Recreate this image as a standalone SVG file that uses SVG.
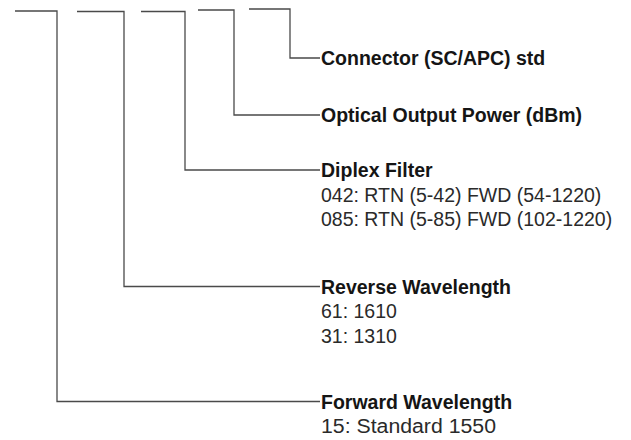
<svg xmlns="http://www.w3.org/2000/svg" width="631" height="440" viewBox="0 0 631 440">
<style>
.c{fill:none;stroke:#4a4a4a;stroke-width:1.3}
.t{font-family:"Liberation Sans",Arial,sans-serif;font-size:19.5px;fill:#2a2a2a}
.b{font-weight:bold;fill:#151515}
</style>
<rect width="631" height="440" fill="#fff"/>
<g id="connectors">
<polyline class="c" points="249,9 290,9 290,58 320,58"/>
<polyline class="c" points="198,10 234,10 234,115 320,115"/>
<polyline class="c" points="141,11.5 185,11.5 185,170 320,170"/>
<polyline class="c" points="77,11.5 124,11.5 124,286.5 320,286.5"/>
<polyline class="c" points="15,11 57,11 57,401.5 320,401.5"/>
</g>
<g id="connector-std">
<text class="t b" x="321" y="65">Connector (SC/APC) std</text>
</g>
<g id="optical-power">
<text class="t b" x="321" y="122">Optical Output Power (dBm)</text>
</g>
<g id="diplex-filter">
<text class="t b" x="321" y="177">Diplex Filter</text>
<text class="t" x="321" y="201.5">042: RTN (5-42) FWD (54-1220)</text>
<text class="t" x="321" y="226">085: RTN (5-85) FWD (102-1220)</text>
</g>
<g id="reverse-wavelength">
<text class="t b" x="321" y="293.5">Reverse Wavelength</text>
<text class="t" x="321" y="318">61: 1610</text>
<text class="t" x="321" y="342.5">31: 1310</text>
</g>
<g id="forward-wavelength">
<text class="t b" x="321" y="408.5">Forward Wavelength</text>
<text class="t" x="321" y="433" textLength="175" lengthAdjust="spacingAndGlyphs">15: Standard 1550</text>
</g>
</svg>
